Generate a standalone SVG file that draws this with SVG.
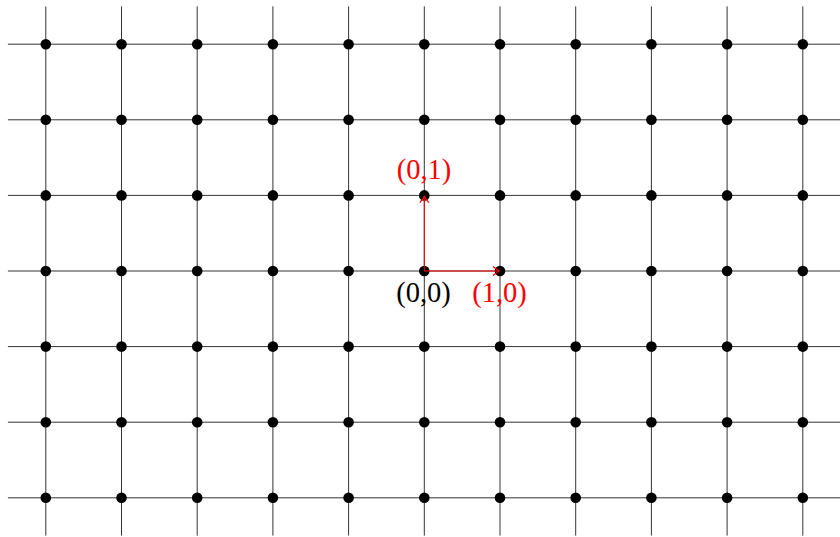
<svg xmlns="http://www.w3.org/2000/svg" xmlns:xlink="http://www.w3.org/1999/xlink" width="840" height="537" viewBox="0 0 840 537">
<style>
.g{stroke:#000;stroke-width:0.8;fill:none}
.a{stroke:#ff0000;stroke-width:1;fill:none}
.lbl{font-family:"Liberation Serif","DejaVu Serif",serif;font-size:28.5px;text-anchor:middle}
</style>
<defs>
<circle id="d" r="5.3" fill="#000"/>
<marker id="ah" markerUnits="userSpaceOnUse" markerWidth="14" markerHeight="14" viewBox="-8 -7 10 14" refX="0" refY="0" orient="auto" overflow="visible">
<path d="M-6,-4.5 Q-1.5,-1 0,0 Q-1.5,1 -6,4.5" stroke="#ff0000" stroke-width="1.2" fill="none"/>
</marker>
</defs>
<rect width="840" height="537" fill="#fff"/>
<g id="grid">
<path class="g" d="M45.8,6.4V535.6M121.5,6.4V535.6M197.2,6.4V535.6M272.9,6.4V535.6M348.6,6.4V535.6M424.3,6.4V535.6M500,6.4V535.6M575.7,6.4V535.6M651.4,6.4V535.6M727.1,6.4V535.6M802.8,6.4V535.6"/>
<path class="g" d="M7.9,44.2H840M7.9,119.8H840M7.9,195.4H840M7.9,271H840M7.9,346.6H840M7.9,422.2H840M7.9,497.8H840"/>
</g>
<g id="points">
<use xlink:href="#d" x="45.8" y="44.2"/><use xlink:href="#d" x="121.5" y="44.2"/><use xlink:href="#d" x="197.2" y="44.2"/><use xlink:href="#d" x="272.9" y="44.2"/><use xlink:href="#d" x="348.6" y="44.2"/><use xlink:href="#d" x="424.3" y="44.2"/><use xlink:href="#d" x="500" y="44.2"/><use xlink:href="#d" x="575.7" y="44.2"/><use xlink:href="#d" x="651.4" y="44.2"/><use xlink:href="#d" x="727.1" y="44.2"/><use xlink:href="#d" x="802.8" y="44.2"/>
<use xlink:href="#d" x="45.8" y="119.8"/><use xlink:href="#d" x="121.5" y="119.8"/><use xlink:href="#d" x="197.2" y="119.8"/><use xlink:href="#d" x="272.9" y="119.8"/><use xlink:href="#d" x="348.6" y="119.8"/><use xlink:href="#d" x="424.3" y="119.8"/><use xlink:href="#d" x="500" y="119.8"/><use xlink:href="#d" x="575.7" y="119.8"/><use xlink:href="#d" x="651.4" y="119.8"/><use xlink:href="#d" x="727.1" y="119.8"/><use xlink:href="#d" x="802.8" y="119.8"/>
<use xlink:href="#d" x="45.8" y="195.4"/><use xlink:href="#d" x="121.5" y="195.4"/><use xlink:href="#d" x="197.2" y="195.4"/><use xlink:href="#d" x="272.9" y="195.4"/><use xlink:href="#d" x="348.6" y="195.4"/><use xlink:href="#d" x="500" y="195.4"/><use xlink:href="#d" x="575.7" y="195.4"/><use xlink:href="#d" x="651.4" y="195.4"/><use xlink:href="#d" x="727.1" y="195.4"/><use xlink:href="#d" x="802.8" y="195.4"/>
<use xlink:href="#d" x="45.8" y="271"/><use xlink:href="#d" x="121.5" y="271"/><use xlink:href="#d" x="197.2" y="271"/><use xlink:href="#d" x="272.9" y="271"/><use xlink:href="#d" x="348.6" y="271"/><use xlink:href="#d" x="575.7" y="271"/><use xlink:href="#d" x="651.4" y="271"/><use xlink:href="#d" x="727.1" y="271"/><use xlink:href="#d" x="802.8" y="271"/>
<use xlink:href="#d" x="45.8" y="346.6"/><use xlink:href="#d" x="121.5" y="346.6"/><use xlink:href="#d" x="197.2" y="346.6"/><use xlink:href="#d" x="272.9" y="346.6"/><use xlink:href="#d" x="348.6" y="346.6"/><use xlink:href="#d" x="424.3" y="346.6"/><use xlink:href="#d" x="500" y="346.6"/><use xlink:href="#d" x="575.7" y="346.6"/><use xlink:href="#d" x="651.4" y="346.6"/><use xlink:href="#d" x="727.1" y="346.6"/><use xlink:href="#d" x="802.8" y="346.6"/>
<use xlink:href="#d" x="45.8" y="422.2"/><use xlink:href="#d" x="121.5" y="422.2"/><use xlink:href="#d" x="197.2" y="422.2"/><use xlink:href="#d" x="272.9" y="422.2"/><use xlink:href="#d" x="348.6" y="422.2"/><use xlink:href="#d" x="424.3" y="422.2"/><use xlink:href="#d" x="500" y="422.2"/><use xlink:href="#d" x="575.7" y="422.2"/><use xlink:href="#d" x="651.4" y="422.2"/><use xlink:href="#d" x="727.1" y="422.2"/><use xlink:href="#d" x="802.8" y="422.2"/>
<use xlink:href="#d" x="45.8" y="497.8"/><use xlink:href="#d" x="121.5" y="497.8"/><use xlink:href="#d" x="197.2" y="497.8"/><use xlink:href="#d" x="272.9" y="497.8"/><use xlink:href="#d" x="348.6" y="497.8"/><use xlink:href="#d" x="424.3" y="497.8"/><use xlink:href="#d" x="500" y="497.8"/><use xlink:href="#d" x="575.7" y="497.8"/><use xlink:href="#d" x="651.4" y="497.8"/><use xlink:href="#d" x="727.1" y="497.8"/><use xlink:href="#d" x="802.8" y="497.8"/>
</g>
<g id="node-origin"><use xlink:href="#d" x="424.3" y="271"/><text class="lbl" x="423.5" y="302" fill="#000">(0,0)</text></g>
<g id="node-e1"><use xlink:href="#d" x="500" y="271"/><text class="lbl" x="499.5" y="302" fill="#ff0000">(1,0)</text></g>
<g id="node-e2"><use xlink:href="#d" x="424.3" y="195.4"/><text class="lbl" x="424" y="179" fill="#ff0000">(0,1)</text></g>
<g id="connectors">
<path class="a" d="M424.3,271H499" marker-end="url(#ah)"/>
<path class="a" d="M424.3,271V196.6" marker-end="url(#ah)"/>
</g>
</svg>
